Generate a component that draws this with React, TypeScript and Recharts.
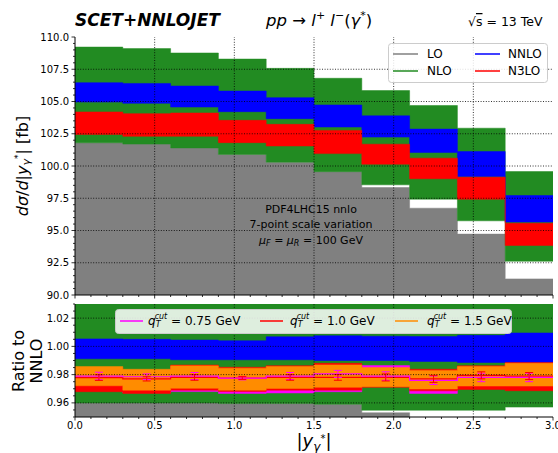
import React from 'react';
import {
  ComposedChart,
  Area,
  Line,
  Scatter,
  ErrorBar,
  XAxis,
  YAxis,
  ReferenceLine,
} from 'recharts';

// bins in |y_gamma*|
const binEdges = [0.0, 0.3, 0.6, 0.9, 1.2, 1.5, 1.8, 2.1, 2.4, 2.7, 3.0];
const binCenters = [0.15, 0.45, 0.75, 1.05, 1.35, 1.65, 1.95, 2.25, 2.55, 2.85];

// upper panel: d sigma / d|y| [fb], scale-variation envelopes
const loLower = [85, 85, 85, 85, 85, 85, 85, 85, 85, 85];
const loUpper = [101.8, 101.7, 101.4, 100.9, 100.3, 99.56, 98.33, 96.73, 94.72, 91.25];
const nloLower = [101.8, 101.7, 101.4, 100.9, 100.3, 99.56, 98.54, 97.43, 95.75, 92.62];
const nloUpper = [109.22, 109.1, 108.76, 108.29, 107.57, 106.8, 105.85, 104.69, 102.93, 99.57];
const nnloLower = [104.96, 104.86, 104.57, 104.21, 103.67, 103.02, 102.24, 101.05, 99.19, 95.65];
const nnloUpper = [106.46, 106.4, 106.2, 105.81, 105.3, 104.73, 103.89, 102.86, 101.12, 97.71];
const n3loLower = [102.45, 102.3, 102.3, 101.81, 101.55, 100.96, 100.14, 99.01, 97.43, 93.84];
const n3loUpper = [104.19, 104.06, 104.11, 103.54, 103.23, 102.76, 101.69, 100.61, 99.13, 95.57];

// lower panel: ratio to NNLO
const rLoLower = [0.9, 0.9, 0.9, 0.9, 0.9, 0.9, 0.9, 0.9, 0.9, 0.9];
const rLoUpper = [0.96, 0.96, 0.96, 0.9595, 0.9595, 0.959, 0.953, 0.948, 0.948, 0.948];
const rNloLower = [0.96, 0.96, 0.96, 0.9595, 0.9595, 0.959, 0.9548, 0.9548, 0.9548, 0.957];
const rNloUpper = [1.04, 1.04, 1.04, 1.04, 1.04, 1.04, 1.04, 1.04, 1.04, 1.04];
const rNnloLower = [0.9912, 0.9912, 0.9905, 0.9905, 0.9905, 0.99, 0.99, 0.9893, 0.9886, 0.9886];
const rNnloUpper = [1.0053, 1.005, 1.0045, 1.004, 1.0068, 1.0075, 1.0072, 1.007, 1.0078, 1.0095];
const q075Lower = [0.969, 0.9672, 0.968, 0.9667, 0.967, 0.9679, 0.972, 0.9667, 0.971, 0.97];
const q075Upper = [0.984, 0.982, 0.985, 0.984, 0.985, 0.986, 0.9864, 0.983, 0.985, 0.987];
const q10Lower = [0.9679, 0.9667, 0.969, 0.968, 0.969, 0.969, 0.971, 0.9685, 0.9695, 0.9686];
const q10Upper = [0.985, 0.983, 0.9868, 0.9852, 0.9863, 0.988, 0.984, 0.9838, 0.9862, 0.9885];
const q15Lower = [0.9721, 0.969, 0.9703, 0.969, 0.9702, 0.971, 0.9714, 0.9698, 0.9719, 0.9719];
const q15Upper = [0.9857, 0.9838, 0.9862, 0.9846, 0.9857, 0.9869, 0.985, 0.983, 0.9857, 0.988];
const q075Central = [0.979, 0.9785, 0.979, 0.9775, 0.979, 0.9805, 0.979, 0.976, 0.978, 0.978];
const q10Central = [0.9779, 0.977, 0.978, 0.9776, 0.978, 0.978, 0.978, 0.977, 0.9795, 0.979];
const q15Central = [0.9789, 0.9764, 0.9783, 0.9768, 0.978, 0.979, 0.9782, 0.9764, 0.9788, 0.98];
const q075Err = [0.0027, 0.002, 0.0025, 0.0012, 0.0025, 0.0025, 0.003, 0.003, 0.003, 0.003];
const q10Err = [0.002, 0.0015, 0.002, 0.001, 0.002, 0.002, 0.0025, 0.0025, 0.0025, 0.0025];

// axes
const xMajor = [0.0, 0.5, 1.0, 1.5, 2.0, 2.5, 3.0];
const yTopMajor = [90, 92.5, 95, 97.5, 100, 102.5, 105, 107.5, 110];
const yBotMajor = [0.96, 0.98, 1.0, 1.02];

const FONT = 'DejaVu Sans, sans-serif';
const GRAY = '#808080';
const GREEN = '#228B22';
const BLUE = '#0000FF';
const RED = '#FF0000';
const MAGENTA = '#FF00FF';
const ORANGE = '#FF8C00';

const steps = (from: number, to: number, step: number) => {
  const out: number[] = [];
  for (let v = from; v <= to + step / 2; v += step) out.push(Number(v.toFixed(4)));
  return out;
};
const xTicks = steps(0, 3, 0.1);
const yTopTicks = steps(90, 110, 0.5);
const yBotTicks = steps(0.95, 1.03, 0.005);

const isMajor = (list: number[], v: number) => list.some((m) => Math.abs(m - v) < 1e-6);

const topRows = binEdges.map((x, i) => {
  const k = Math.min(i, 9);
  return {
    x,
    lo: [loLower[k], loUpper[k]],
    nlo: [nloLower[k], nloUpper[k]],
    nnlo: [nnloLower[k], nnloUpper[k]],
    n3lo: [n3loLower[k], n3loUpper[k]],
  };
});

const botRows = binEdges.map((x, i) => {
  const k = Math.min(i, 9);
  return {
    x,
    lo: [rLoLower[k], rLoUpper[k]],
    nlo: [rNloLower[k], rNloUpper[k]],
    nnlo: [rNnloLower[k], rNnloUpper[k]],
    q075: [q075Lower[k], q075Upper[k]],
    q10: [q10Lower[k], q10Upper[k]],
    q15: [q15Lower[k], q15Upper[k]],
    c075: q075Central[k],
    c10: q10Central[k],
    c15: q15Central[k],
  };
});

const err075Rows = binCenters.map((x, i) => ({ x, y: q075Central[i], e: q075Err[i] }));
const err10Rows = binCenters.map((x, i) => ({ x, y: q10Central[i], e: q10Err[i] }));

const makeYTick = (majors: number[], digits: number) => (props: any) => {
  const { x, y, payload } = props;
  const v = payload.value;
  const major = isMajor(majors, v);
  return (
    <g>
      <line x1={x - (major ? 3.5 : 2)} x2={x} y1={y} y2={y} stroke="#000" strokeWidth={0.8} />
      {major && (
        <text x={x - 6} y={y} dy="0.35em" textAnchor="end" fontSize={10} fontFamily={FONT} fill="#000">
          {v.toFixed(digits)}
        </text>
      )}
    </g>
  );
};

const makeXTick = (labels: boolean) => (props: any) => {
  const { x, y, payload } = props;
  const v = payload.value;
  const major = isMajor(xMajor, v);
  return (
    <g>
      <line x1={x} x2={x} y1={y} y2={y + (major ? 3.5 : 2)} stroke="#000" strokeWidth={0.8} />
      {labels && major && (
        <text x={x} y={y + 11.5} textAnchor="middle" fontSize={10} fontFamily={FONT} fill="#000">
          {v.toFixed(1)}
        </text>
      )}
    </g>
  );
};

const gridX = [0.5, 1.0, 1.5, 2.0, 2.5];
const gridYTop = [92.5, 95, 97.5, 100, 102.5, 105, 107.5];
const gridYBot = [0.96, 0.98, 1.0, 1.02];
const dots = '1 1.6';

const band = (key: string, color: string) => (
  <Area
    key={key}
    dataKey={key}
    type="stepAfter"
    fill={color}
    fillOpacity={1}
    stroke={color}
    strokeWidth={0.5}
    isAnimationActive={false}
    dot={false}
    activeDot={false}
  />
);

function QLabel({ x, y, value }: { x: number; y: number; value: string }) {
  return (
    <text x={x} y={y} fontSize={12} fontFamily={FONT} dominantBaseline="central">
      <tspan fontStyle="italic">q</tspan>
      <tspan fontSize={8} fontStyle="italic" dy={3}>T</tspan>
      <tspan fontSize={8} fontStyle="italic" dx={-4.9} dy={-8}>cut</tspan>
      <tspan dy={5}>{` = ${value} GeV`}</tspan>
    </text>
  );
}

export default function App() {
  return (
    <div style={{ position: 'absolute', left: 0, top: 0, width: 558, height: 453, background: '#fff', fontFamily: FONT }}>
      <div style={{ position: 'absolute', left: 0, top: 0 }}>
        <ComposedChart width={558} height={300} data={topRows} margin={{ top: 37, right: 5, bottom: 0, left: 0 }}>
          <XAxis
            dataKey="x"
            type="number"
            domain={[0, 3]}
            ticks={xTicks}
            interval={0}
            height={5}
            tickSize={0}
            tickMargin={0}
            tickLine={false}
            tick={makeXTick(false)}
            axisLine={{ stroke: '#000' }}
            allowDataOverflow
          />
          <XAxis xAxisId="top" orientation="top" type="number" domain={[0, 3]} height={0} tick={false} tickLine={false} axisLine={{ stroke: '#000' }} />
          <YAxis
            type="number"
            domain={[90, 110]}
            ticks={yTopTicks}
            interval={0}
            width={75}
            tickSize={0}
            tickMargin={0}
            tickLine={false}
            tick={makeYTick(yTopMajor, 1)}
            axisLine={{ stroke: '#000' }}
            allowDataOverflow
          />
          <YAxis yAxisId="right" orientation="right" type="number" domain={[90, 110]} width={0} tick={false} tickLine={false} axisLine={{ stroke: '#000' }} />
          {band('lo', GRAY)}
          {band('nlo', GREEN)}
          {band('nnlo', BLUE)}
          {band('n3lo', RED)}
          {gridX.map((v) => (
            <ReferenceLine key={'gx' + v} x={v} stroke="#000" strokeWidth={0.8} strokeDasharray={dots} />
          ))}
          {gridYTop.map((v) => (
            <ReferenceLine key={'gy' + v} y={v} stroke="#000" strokeWidth={0.8} strokeDasharray={dots} />
          ))}
        </ComposedChart>
      </div>
      <div style={{ position: 'absolute', left: 0, top: 300 }}>
        <ComposedChart width={558} height={153} data={botRows} margin={{ top: 4, right: 5, bottom: 0, left: 0 }}>
          <XAxis
            dataKey="x"
            type="number"
            domain={[0, 3]}
            ticks={xTicks}
            interval={0}
            height={36}
            tickSize={0}
            tickMargin={0}
            tickLine={false}
            tick={makeXTick(true)}
            axisLine={{ stroke: '#000' }}
            allowDataOverflow
          />
          <XAxis xAxisId="top" orientation="top" type="number" domain={[0, 3]} height={0} tick={false} tickLine={false} axisLine={{ stroke: '#000' }} />
          <YAxis
            type="number"
            domain={[0.95, 1.03]}
            ticks={yBotTicks}
            interval={0}
            width={75}
            tickSize={0}
            tickMargin={0}
            tickLine={false}
            tick={makeYTick(yBotMajor, 2)}
            axisLine={{ stroke: '#000' }}
            allowDataOverflow
          />
          <YAxis yAxisId="right" orientation="right" type="number" domain={[0.95, 1.03]} width={0} tick={false} tickLine={false} axisLine={{ stroke: '#000' }} />
          {band('lo', GRAY)}
          {band('nlo', GREEN)}
          {band('nnlo', BLUE)}
          {band('q075', MAGENTA)}
          {band('q10', RED)}
          {band('q15', ORANGE)}
          <Line dataKey="c15" type="stepAfter" stroke={ORANGE} strokeWidth={1.2} dot={false} activeDot={false} isAnimationActive={false} />
          <Line dataKey="c10" type="stepAfter" stroke={RED} strokeWidth={1.2} dot={false} activeDot={false} isAnimationActive={false} />
          <Line dataKey="c075" type="stepAfter" stroke={MAGENTA} strokeWidth={1.2} dot={false} activeDot={false} isAnimationActive={false} />
          <Scatter data={err075Rows} dataKey="y" fill={MAGENTA} shape={() => <g />} isAnimationActive={false}>
            <ErrorBar dataKey="e" direction="y" width={4} stroke={MAGENTA} strokeWidth={1} />
          </Scatter>
          <Scatter data={err10Rows} dataKey="y" fill={RED} shape={() => <g />} isAnimationActive={false}>
            <ErrorBar dataKey="e" direction="y" width={4} stroke={RED} strokeWidth={1} />
          </Scatter>
          {gridX.map((v) => (
            <ReferenceLine key={'bx' + v} x={v} stroke="#000" strokeWidth={0.8} strokeDasharray={dots} />
          ))}
          {gridYBot.map((v) => (
            <ReferenceLine key={'by' + v} y={v} stroke="#000" strokeWidth={0.8} strokeDasharray={dots} />
          ))}
        </ComposedChart>
      </div>

      <svg width={558} height={453} style={{ position: 'absolute', left: 0, top: 0, pointerEvents: 'none' }} fontFamily={FONT}>
        {/* header */}
        <text x={75} y={26} fontSize={17} fontWeight="bold" fontStyle="italic">SCET+NNLOJET</text>
        <text x={266} y={26} fontSize={16.5}>
          <tspan fontStyle="italic">pp</tspan>
          <tspan>{' \u2192 '}</tspan>
          <tspan fontStyle="italic">l</tspan>
          <tspan fontSize={11} dy={-7}>+</tspan>
          <tspan fontStyle="italic" dy={7}>{' l'}</tspan>
          <tspan fontSize={11} dy={-7}>{'\u2212'}</tspan>
          <tspan dy={7}>(</tspan>
          <tspan fontStyle="italic">{'\u03b3'}</tspan>
          <tspan fontSize={11} dy={-7}>*</tspan>
          <tspan dy={7}>)</tspan>
        </text>
        <text x={468} y={26} fontSize={12.5}>
          <tspan>{'\u221a'}</tspan>
          <tspan textDecoration="overline">s</tspan>
          <tspan>{' = 13 TeV'}</tspan>
        </text>

        {/* axis titles */}
        <text transform="translate(22,166) rotate(-90)" textAnchor="middle" dominantBaseline="central" fontSize={16}>
          <tspan fontStyle="italic">d{'\u03c3'}</tspan>
          <tspan>/</tspan>
          <tspan fontStyle="italic">d</tspan>
          <tspan>|</tspan>
          <tspan fontStyle="italic">y</tspan>
          <tspan fontSize={11} fontStyle="italic" dy={4}>{'\u03b3'}</tspan>
          <tspan fontSize={9} dy={-8}>*</tspan>
          <tspan dy={4}>{'| [fb]'}</tspan>
        </text>
        <text transform="translate(18,361) rotate(-90)" textAnchor="middle" dominantBaseline="central" fontSize={16}>Ratio to</text>
        <text transform="translate(36,361) rotate(-90)" textAnchor="middle" dominantBaseline="central" fontSize={16}>NNLO</text>
        <text x={314} y={447} textAnchor="middle" fontSize={18}>
          <tspan>|</tspan>
          <tspan fontStyle="italic">y</tspan>
          <tspan fontSize={12} fontStyle="italic" dy={4}>{'\u03b3'}</tspan>
          <tspan fontSize={10} dy={-9}>*</tspan>
          <tspan dy={5}>|</tspan>
        </text>

        {/* annotation */}
        <text x={311} y={209} textAnchor="middle" dominantBaseline="central" fontSize={11}>PDF4LHC15 nnlo</text>
        <text x={311} y={224.5} textAnchor="middle" dominantBaseline="central" fontSize={11}>7-point scale variation</text>
        <text x={311} y={240} textAnchor="middle" dominantBaseline="central" fontSize={11}>
          <tspan fontStyle="italic">{'\u03bc'}</tspan>
          <tspan fontSize={8} fontStyle="italic" dy={2.5}>F</tspan>
          <tspan dy={-2.5}>{' = '}</tspan>
          <tspan fontStyle="italic">{'\u03bc'}</tspan>
          <tspan fontSize={8} fontStyle="italic" dy={2.5}>R</tspan>
          <tspan dy={-2.5}>{' = 100 GeV'}</tspan>
        </text>

        {/* upper legend */}
        <rect x={388.5} y={43.5} width={159} height={39} rx={3} fill="#fff" fillOpacity={0.85} stroke="#cccccc" />
        <line x1={393} x2={418} y1={54} y2={54} stroke={GRAY} strokeWidth={1.5} />
        <text x={427} y={54} fontSize={12} dominantBaseline="central">LO</text>
        <line x1={475} x2={500} y1={54} y2={54} stroke={BLUE} strokeWidth={1.5} />
        <text x={508} y={54} fontSize={12} dominantBaseline="central">NNLO</text>
        <line x1={393} x2={418} y1={71} y2={71} stroke={GREEN} strokeWidth={1.5} />
        <text x={427} y={71} fontSize={12} dominantBaseline="central">NLO</text>
        <line x1={475} x2={500} y1={71} y2={71} stroke={RED} strokeWidth={1.5} />
        <text x={508} y={71} fontSize={12} dominantBaseline="central">N3LO</text>

        {/* lower legend */}
        <rect x={115.5} y={309.5} width={396} height={24} rx={3} fill="#fff" fillOpacity={0.85} stroke="#cccccc" />
        <line x1={120} x2={143} y1={321} y2={321} stroke={MAGENTA} strokeWidth={1.5} />
        <QLabel x={148} y={321} value="0.75" />
        <line x1={260} x2={283} y1={321} y2={321} stroke={RED} strokeWidth={1.5} />
        <QLabel x={290} y={321} value="1.0" />
        <line x1={395} x2={418} y1={321} y2={321} stroke={ORANGE} strokeWidth={1.5} />
        <QLabel x={427} y={321} value="1.5" />
      </svg>
    </div>
  );
}
